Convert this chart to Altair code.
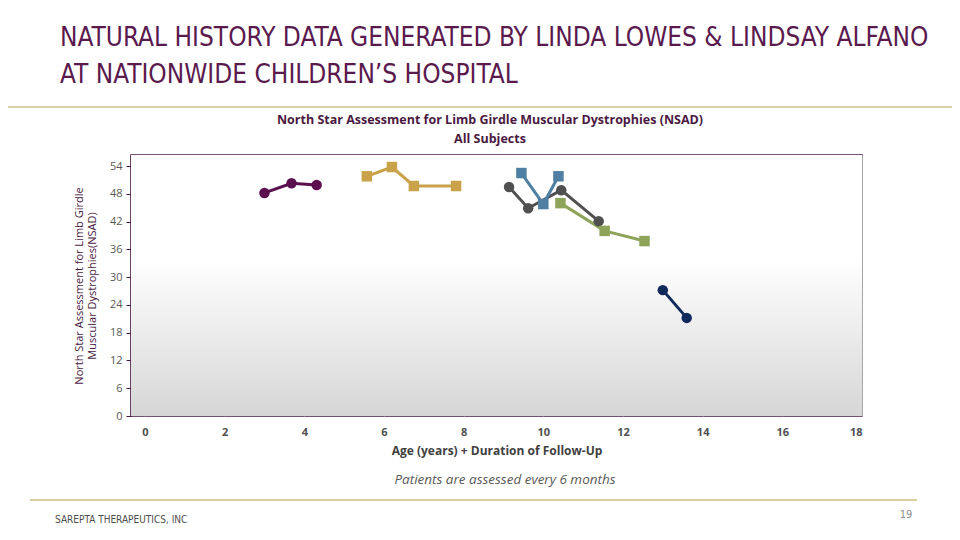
import altair as alt
import pandas as pd

# ---- data ----
series_names = ["Subject A", "Subject B", "Subject C", "Subject D", "Subject E", "Subject F"]
series_colors = ["#5B0F4E", "#C9A24A", "#505050", "#8FA45B", "#4F7FA2", "#102A5C"]
series_shapes = ["circle", "square", "circle", "square", "square", "circle"]

a_x = [3.0, 3.68, 4.31]
a_y = [48.2, 50.3, 49.9]
b_x = [5.57, 6.2, 6.75, 7.81]
b_y = [51.8, 53.8, 49.7, 49.7]
c_x = [9.14, 9.62, 10.45, 11.39]
c_y = [49.5, 44.9, 48.8, 42.1]
d_x = [10.43, 11.54, 12.54]
d_y = [46.0, 40.0, 37.8]
e_x = [9.45, 10.0, 10.38]
e_y = [52.5, 45.8, 51.8]
f_x = [13.0, 13.6]
f_y = [27.2, 21.2]

x_ticks = [0, 2, 4, 6, 8, 10, 12, 14, 16, 18]
y_ticks = [0, 6, 12, 18, 24, 30, 36, 42, 48, 54]

rows = []
for name, xs, ys in zip(series_names, [a_x, b_x, c_x, d_x, e_x, f_x], [a_y, b_y, c_y, d_y, e_y, f_y]):
    for xv, yv in zip(xs, ys):
        rows.append({"series": name, "age": xv, "score": yv})
df = pd.DataFrame(rows)

W, H = 731, 261
OX, OY = 131, 155  # page position of plot origin
PURPLE = "#4A1942"
COND = "DejaVu Sans Condensed"

x_scale = alt.Scale(domain=[-0.35, 18], nice=False, zero=False)
y_scale = alt.Scale(domain=[0, 56.4], nice=False)
color_scale = alt.Scale(domain=series_names, range=series_colors)
shape_scale = alt.Scale(domain=series_names, range=series_shapes)

one = pd.DataFrame({"k": [0]})

bg = alt.Chart(one).mark_rect(
    color=alt.Gradient(
        gradient="linear",
        stops=[alt.GradientStop(offset=0, color="#ffffff"),
               alt.GradientStop(offset=0.4, color="#ffffff"),
               alt.GradientStop(offset=1, color="#d6d6d6")],
        x1=0, x2=0, y1=0, y2=1),
).encode(x=alt.value(0), x2=alt.value(W), y=alt.value(0), y2=alt.value(H))

x_axis = alt.Axis(values=x_ticks, title="Age (years) + Duration of Follow-Up",
                  grid=True, gridColor="#a6a6a6", gridWidth=1,
                  ticks=False, domain=False, labelOverlap=False,
                  labelFontWeight="bold", labelColor="#505050", labelFontSize=11,
                  labelFont="Open Sans", labelPadding=10,
                  titleFont="Open Sans", titleFontSize=12, titleFontWeight="bold",
                  titleColor="#404040", titlePadding=8)
y_axis = alt.Axis(values=y_ticks, grid=False, labelOverlap=False, tickCount=10,
                  title=["North Star Assessment for Limb Girdle", "Muscular Dystrophies(NSAD)"],
                  titleFont="Open Sans", titleFontSize=11, titleFontWeight="normal",
                  titleColor=PURPLE, titlePadding=12,
                  labelColor="#595959", labelFontSize=11, labelFont="Open Sans",
                  tickColor=PURPLE, tickSize=5, domainColor=PURPLE, domainWidth=1.5,
                  labelPadding=4)

x_enc = alt.X("age:Q", scale=x_scale, axis=x_axis)
y_enc = alt.Y("score:Q", scale=y_scale, axis=y_axis)

lines = alt.Chart(df).mark_line(strokeWidth=3).encode(
    x=x_enc, y=y_enc,
    color=alt.Color("series:N", scale=color_scale, legend=None),
    detail="series:N",
)
points = alt.Chart(df).mark_point(filled=True, opacity=1, size=110).encode(
    x=x_enc, y=y_enc,
    color=alt.Color("series:N", scale=color_scale, legend=None),
    shape=alt.Shape("series:N", scale=shape_scale, legend=None),
)


def txt(text, px, py, **kw):
    return alt.Chart(pd.DataFrame({"t": [text]})).mark_text(**kw).encode(
        text="t:N", x=alt.value(px - OX), y=alt.value(py - OY))


def hline(x1, x2, py, color, width):
    return alt.Chart(one).mark_rule(color=color, strokeWidth=width).encode(
        x=alt.value(x1 - OX), x2=alt.value(x2 - OX), y=alt.value(py - OY))


slide_title_1 = txt("NATURAL HISTORY DATA GENERATED BY LINDA LOWES & LINDSAY ALFANO", 60, 38,
                    align="left", baseline="middle", font=COND, fontSize=26,
                    color="#5A1A4E")
slide_title_2 = txt("AT NATIONWIDE CHILDREN\u2019S HOSPITAL", 60, 75,
                    align="left", baseline="middle", font=COND, fontSize=26,
                    color="#5A1A4E")
top_line = hline(0, 960, 107, "#d9cfa8", 2)
chart_title_1 = txt("North Star Assessment for Limb Girdle Muscular Dystrophies (NSAD)", 490, 120,
                    align="center", baseline="middle", font="Open Sans", fontSize=12.5,
                    fontWeight="bold", color=PURPLE)
chart_title_2 = txt("All Subjects", 490, 139,
                    align="center", baseline="middle", font="Open Sans", fontSize=12.5,
                    fontWeight="bold", color=PURPLE)
note = txt("Patients are assessed every 6 months", 505, 480,
           align="center", baseline="middle", font="Open Sans", fontSize=13.5,
           fontStyle="italic", color="#595959")
bottom_line = hline(30, 917, 500, "#dccf9f", 2)
footer = txt("SAREPTA THERAPEUTICS, INC", 55, 520, align="left", baseline="middle",
             font=COND, fontSize=10, color="#4d4d4d")
page_no = txt("19", 906, 515, align="center", baseline="middle",
              font=COND, fontSize=11, color="#8c8c8c")

chart = alt.layer(
    bg, lines, points,
    slide_title_1, slide_title_2, top_line, chart_title_1, chart_title_2,
    note, bottom_line, footer, page_no,
).properties(
    width=W, height=H,
    autosize=alt.AutoSizeParams(type="none"),
    padding={"left": OX - 8, "top": OY - 8, "right": 944 - (OX - 8) - W, "bottom": 524 - (OY - 8) - H},
    background="#ffffff",
).configure_view(
    stroke=PURPLE, strokeWidth=1.5,
).configure_axis(
    labelOverlap=False,
)

chart.save("out.html", embed_options={"renderer": "svg", "actions": False})
